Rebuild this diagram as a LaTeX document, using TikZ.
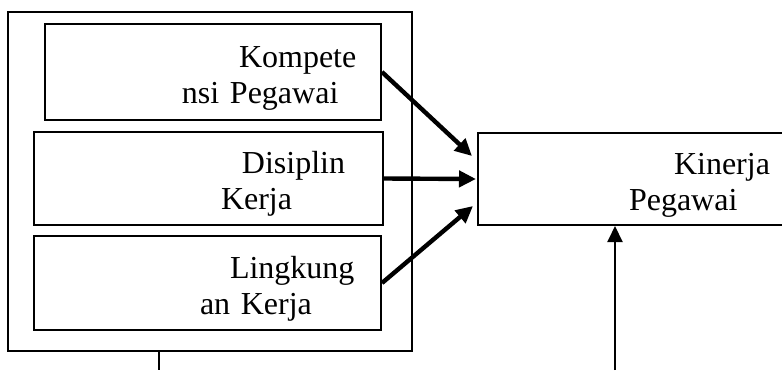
\documentclass[tikz,border=0pt]{standalone}
\usepackage{fontspec}
\setmainfont{Liberation Serif}
\usetikzlibrary{positioning,arrows.meta}
\tikzset{
  every node/.style={text=black, draw=black, line width=1pt, inner xsep=0pt, inner ysep=0pt, align=left,
    font=\fontsize{16}{18}\selectfont, text height=16.5pt},
  every path/.style={draw=black, line width=1pt},
  thick arrow/.style={line width=2.2pt, -{Triangle[length=8.5pt, width=8pt]}},
  thin arrow/.style={line width=1pt, -{Triangle[length=8pt, width=7.5pt]}}
}

\begin{document}
\begin{tikzpicture}[x=0.5pt, y=-0.5pt]
  \path[use as bounding box, draw=none] (0,0) rectangle (782,370);
  % Nodes
  \node (group) at (210,181.5) [minimum width=202pt, minimum height=169.5pt, text height=0pt] {};
  \node (kompetensi) at (213,72) [text width=168pt, minimum height=48pt] {
    \hspace*{97pt}Kompete\\
    \hspace*{68.5pt}nsi Pegawai
    };
  \node (disiplin) at (208.5,178.5) [text width=174.5pt, minimum height=46.5pt] {
    \hspace*{104pt}Disiplin\\
    \hspace*{93.5pt}Kerja
    };
  \node (lingkungan) at (207.5,283) [text width=173.5pt, minimum height=47pt] {
    \hspace*{98pt}Lingkung\\
    \hspace*{83pt}an Kerja
    };
  \node (kinerja) at (631.5,179) [text width=153.5pt, minimum height=46pt] {
    \hspace*{98pt}Kinerja\\
    \hspace*{75.5pt}Pegawai
    };
  \coordinate (groupend) at (159,370);
  \coordinate (kinerjastart) at (615,370);

  \draw[thick arrow] (kompetensi.east) -- ([yshift=11.5pt, xshift=-2.5pt]kinerja.west);
  \draw[thick arrow] (disiplin.east) -- ([xshift=-0.5pt]kinerja.west);
  \draw[thick arrow] (lingkungan.east) -- ([yshift=-13.5pt, xshift=-2pt]kinerja.west);
  \draw (group.south -| groupend) -- (groupend);
  \draw[thin arrow] (kinerjastart) -- (kinerja.south -| kinerjastart);
\end{tikzpicture}
\end{document}
